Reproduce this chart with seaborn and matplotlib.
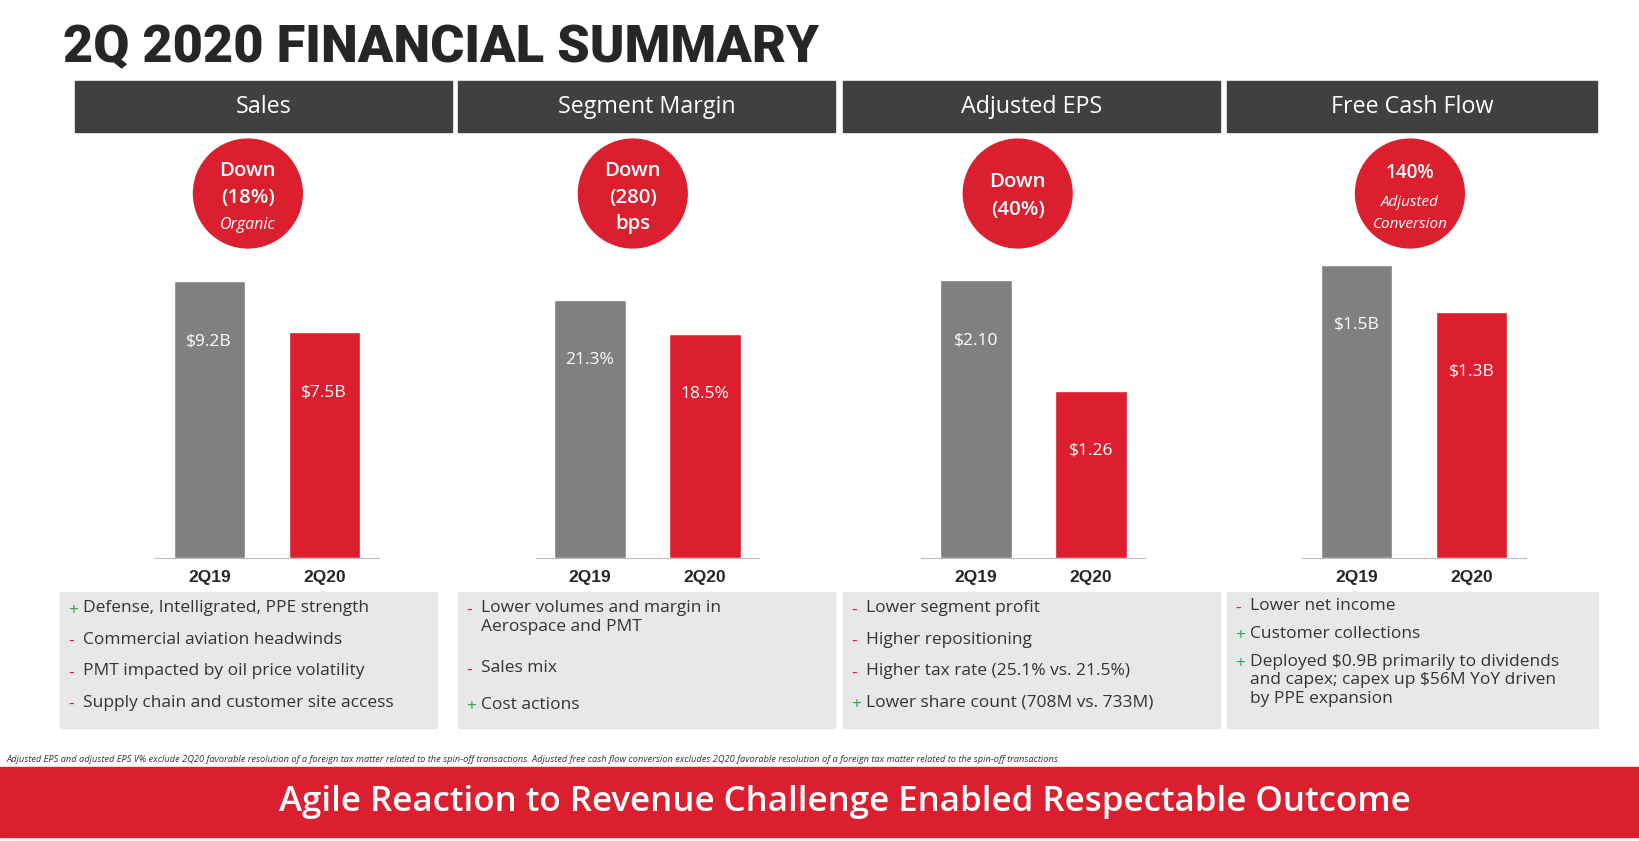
import matplotlib
matplotlib.use("Agg")
import matplotlib.pyplot as plt
import seaborn as sns
import pandas as pd
from matplotlib.patches import Rectangle, Circle

RED = "#dc1f2e"
GRAY = "#808080"
HEAD = "#404040"
BOX = "#e8e8e8"
GREEN = "#2aa84a"

periods = ["2Q19", "2Q20"]
titles = ["Sales", "Segment Margin", "Adjusted EPS", "Free Cash Flow"]
heights = [[9.2, 7.5], [21.3, 18.5], [2.10, 1.26], [1.55, 1.30]]
value_labels = [["$9.2B", "$7.5B"], ["21.3%", "18.5%"], ["$2.10", "$1.26"], ["$1.5B", "$1.3B"]]
circle_texts = [("Down", "(18%)", "Organic"), ("Down", "(280)", "bps"),
                ("Down", "(40%)", None), ("140%", "Adjusted", "Conversion")]
bullets = [
    [("+", "Defense, Intelligrated, PPE strength"), ("-", "Commercial aviation headwinds"),
     ("-", "PMT impacted by oil price volatility"), ("-", "Supply chain and customer site access")],
    [("-", "Lower volumes and margin in\nAerospace and PMT"), ("-", "Sales mix"), ("+", "Cost actions")],
    [("-", "Lower segment profit"), ("-", "Higher repositioning"),
     ("-", "Higher tax rate (25.1% vs. 21.5%)"), ("+", "Lower share count (708M vs. 733M)")],
    [("-", "Lower net income"), ("+", "Customer collections"),
     ("+", "Deployed $0.9B primarily to dividends\nand capex; capex up $56M YoY driven\nby PPE expansion")],
]
bullet_y = [[584, 614, 644, 674], [584, 641, 676], [584, 614, 644, 674], [582, 608, 635]]
footnote = ("Adjusted EPS and adjusted EPS V% exclude 2Q20 favorable resolution of a foreign tax matter related to the spin-off transactions. "
            "Adjusted free cash flow conversion excludes 2Q20 favorable resolution of a foreign tax matter related to the spin-off transactions.")
banner = "Agile Reaction to Revenue Challenge Enabled Respectable Outcome"

sns.set_style("white")
plt.rcParams['font.family'] = ['Open Sans', 'DejaVu Sans']

# layout measured on a 1568-wide copy of the slide
W, H = 1568, 804
K = 1640 / W  # font scale
fig = plt.figure(figsize=(16.4, 8.41), dpi=100)
bg = fig.add_axes([0, 0, 1, 1])
bg.set_xlim(0, W)
bg.set_ylim(H, 0)
bg.axis("off")

bg.text(60, 46, "2Q 2020 FINANCIAL SUMMARY", fontsize=36 * K, fontweight="heavy",
        family=["Roboto", "DejaVu Sans"], va="center", ha="left")

head_x = [(72, 432), (438, 798), (806, 1166), (1173, 1527)]
box_x = [(57, 418), (438, 798), (806, 1166), (1173, 1528)]
circ_x = [237, 605, 973, 1348]
gray_centers = [200, 564, 933, 1297]
top_px = 240
base_px = 533
bar_top_px = [[269, 321], [287, 320], [268, 375], [253, 299]]

for i in range(4):
    x0, x1 = head_x[i]
    bg.add_patch(Rectangle((x0, 77), x1 - x0, 49, color=HEAD))
    bg.text((x0 + x1) / 2, 102, titles[i], color="white", fontsize=16 * K, ha="center", va="center")
    bg.add_patch(Circle((circ_x[i], 185), 52, color=RED))
    a, b, c = circle_texts[i]
    if c is None:
        bg.text(circ_x[i], 174, a, color="white", fontsize=14 * K, ha="center", va="center", fontweight="semibold")
        bg.text(circ_x[i], 201, b, color="white", fontsize=14 * K, ha="center", va="center", fontweight="semibold")
    elif i == 3:
        bg.text(circ_x[i], 165, a, color="white", fontsize=13 * K, ha="center", va="center", fontweight="semibold")
        bg.text(circ_x[i], 194, b, color="white", fontsize=10.5 * K, ha="center", va="center", style="italic")
        bg.text(circ_x[i], 215, c, color="white", fontsize=10.5 * K, ha="center", va="center", style="italic")
    else:
        bg.text(circ_x[i], 163, a, color="white", fontsize=14 * K, ha="center", va="center", fontweight="semibold")
        bg.text(circ_x[i], 189, b, color="white", fontsize=14 * K, ha="center", va="center", fontweight="semibold")
        if i == 0:
            bg.text(circ_x[i], 215, c, color="white", fontsize=11 * K, ha="center", va="center", style="italic")
        else:
            bg.text(circ_x[i], 214, c, color="white", fontsize=14 * K, ha="center", va="center", fontweight="semibold")

    bx0, bx1 = box_x[i]
    bg.add_patch(Rectangle((bx0, 566), bx1 - bx0, 130, color=BOX))
    for (sym, txt), y in zip(bullets[i], bullet_y[i]):
        bg.text(bx0 + 8, y, sym, color=GREEN if sym == "+" else RED, fontsize=12 * K, va="center")
        bg.text(bx0 + 22, y - 10, txt, color="#333333", fontsize=12 * K, va="top", linespacing=1.2)

    # bar chart
    left = gray_centers[i] - 52
    ax = fig.add_axes([left / W, 1 - base_px / H, 214 / W, (base_px - top_px) / H])
    df = pd.DataFrame({"period": periods, "value": heights[i]})
    sns.barplot(data=df, x="period", y="value", hue="period", palette=[GRAY, RED],
                width=0.62, saturation=1, legend=False, ax=ax)
    ytop = heights[i][0] * (base_px - top_px) / (base_px - bar_top_px[i][0])
    ax.set_ylim(0, ytop)
    ax.set_xlim(-0.473, 1.473)
    ax.set_facecolor("none")
    for s in ["top", "right", "left"]:
        ax.spines[s].set_visible(False)
    ax.spines["bottom"].set_color("#bbbbbb")
    ax.set_yticks([])
    ax.set_xlabel("")
    ax.set_ylabel("")
    ax.tick_params(axis="x", length=0, pad=9)
    for lab in ax.get_xticklabels():
        lab.set_fontweight("bold")
        lab.set_fontsize(12 * K)
        lab.set_family(["Liberation Sans", "DejaVu Sans"])
    for j, v in enumerate(heights[i]):
        ax.annotate(value_labels[i][j], (j, v), xytext=(0, -43), textcoords="offset points",
                    ha="center", va="center", color="white", fontsize=12 * K)

bg.text(6, 726, footnote, fontsize=6.4 * K, style="italic", color="#333333", va="center")
bg.add_patch(Rectangle((0, 733), 1568, 67, color=RED))
bg.text(808, 767, banner, color="white", fontsize=24 * K, ha="center", va="center", fontweight="semibold")

fig.savefig("out.png", dpi=100)
